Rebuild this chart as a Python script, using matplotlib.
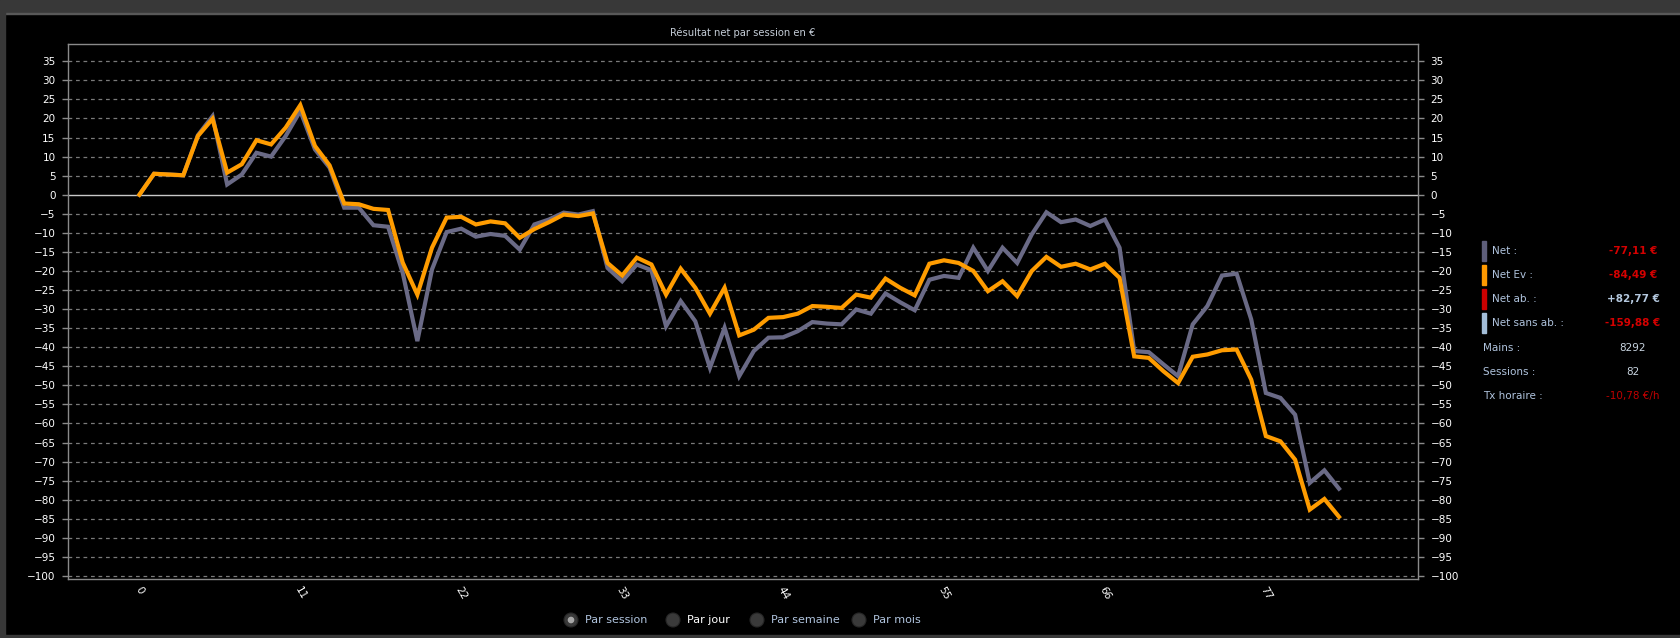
"""Résultat net par session en € : courbes Net et Net Ev (style tableau de bord poker)."""

import matplotlib
matplotlib.use("Agg")
import matplotlib.pyplot as plt
from matplotlib.patches import Circle, Rectangle

# cumulative results per session (index 0 = start)
net = [
    0, 5.5, 5.3, 5.1, 15.6, 20.6, 2.7, 5.3, 11.0, 10.0,
    15.4, 22.0, 11.9, 7.1, -3.4, -3.4, -8.0, -8.4, -20.5, -38.4,
    -19.6, -9.8, -8.9, -11.0, -10.3, -10.8, -14.4, -7.8, -6.5, -4.7,
    -5.2, -4.3, -19.2, -22.7, -18.3, -19.8, -34.5, -27.9, -33.2, -45.4,
    -34.9, -47.6, -41.0, -37.5, -37.4, -35.8, -33.4, -33.8, -34.0, -30.1,
    -31.2, -25.9, -28.2, -30.3, -22.3, -21.3, -21.8, -13.9, -20.0, -13.9,
    -17.9, -10.4, -4.6, -7.2, -6.5, -8.2, -6.5, -13.9, -41.0, -41.3,
    -44.5, -47.6, -34.0, -29.2, -21.2, -20.7, -32.7, -52.0, -53.3, -57.7,
    -75.6, -72.3, -77.11,
]
net_ev = [
    0, 5.5, 5.3, 5.1, 15.4, 19.9, 5.8, 8.0, 14.3, 13.2,
    17.6, 23.5, 12.8, 7.7, -2.3, -2.5, -3.7, -4.0, -17.8, -26.2,
    -13.9, -6.0, -5.8, -7.8, -7.0, -7.5, -11.3, -9.0, -7.2, -5.2,
    -5.6, -4.9, -17.9, -21.2, -16.5, -18.3, -26.2, -19.4, -24.4, -31.2,
    -24.4, -36.9, -35.4, -32.3, -32.1, -31.2, -29.2, -29.4, -29.7, -26.2,
    -27.0, -22.0, -24.4, -26.4, -18.1, -17.2, -17.9, -20.0, -25.3, -22.7,
    -26.6, -20.0, -16.3, -18.9, -18.1, -19.6, -18.1, -21.8, -42.4, -42.8,
    -46.3, -49.4, -42.5, -41.9, -40.8, -40.6, -48.5, -63.3, -64.7, -69.5,
    -82.6, -79.8, -84.49,
]
sessions = list(range(len(net)))
x_ticks = [0, 11, 22, 33, 44, 55, 66, 77]
y_ticks = list(range(-100, 36, 5))

legend_labels = ["Net :", "Net Ev :", "Net ab. :", "Net sans ab. :"]
legend_values = ["-77,11 €", "-84,49 €", "+82,77 €", "-159,88 €"]
legend_colors = ["#5e5e7a", "#ff9900", "#cc0000", "#a3bdd8"]
legend_value_colors = ["#d40000", "#d40000", "#b4c8de", "#d40000"]
stat_labels = ["Mains :", "Sessions :", "Tx horaire :"]
stat_values = ["8292", "82", "-10,78 €/h"]
stat_value_colors = ["#c8d4e0", "#c8d4e0", "#c00000"]
radio_labels = ["Par session", "Par jour", "Par semaine", "Par mois"]

W, H = 1681, 638
TEXT_BLUE = "#b0c4de"

fig = plt.figure(figsize=(W / 100, H / 100), dpi=100, facecolor="black")

# overlay in pixel coordinates for the surrounding UI
ui = fig.add_axes([0, 0, 1, 1])
ui.set_xlim(0, W)
ui.set_ylim(H, 0)
ui.axis("off")
ui.add_patch(Rectangle((0, 0), W, 13, color="#383838"))
ui.add_patch(Rectangle((0, 12.5), W, 1.2, color="#585858"))
ui.add_patch(Rectangle((0, 0), 5, H, color="#383838"))
ui.add_patch(Rectangle((0, 635), W, 3, color="#383838"))

ui.text(743, 32.5, "Résultat net par session en €", color="#c4ccd6",
        fontsize=7.2, ha="center", va="center")

# legend panel
for k, (lab, val, col, vcol) in enumerate(zip(legend_labels, legend_values,
                                              legend_colors, legend_value_colors)):
    yc = 251 + 24 * k
    ui.add_patch(Rectangle((1482, yc - 10), 4.5, 20, color=col))
    ui.text(1492, yc, lab, color=TEXT_BLUE, fontsize=7.5, ha="left", va="center")
    ui.text(1633, yc, val, color=vcol, fontsize=7.5, ha="center", va="center",
            fontweight="bold")
for k, (lab, val, vcol) in enumerate(zip(stat_labels, stat_values, stat_value_colors)):
    yc = 348 + 24 * k
    ui.text(1483, yc, lab, color=TEXT_BLUE, fontsize=7.5, ha="left", va="center")
    ui.text(1633, yc, val, color=vcol, fontsize=7.5, ha="center", va="center")

# radio buttons under the chart
radio_x = [571, 673, 757, 859]
for k, (cx, lab) in enumerate(zip(radio_x, radio_labels)):
    ui.add_patch(Circle((cx, 620), 7, facecolor="#3a3a3a", edgecolor="#262626", lw=0.8))
    if k == 0:
        ui.add_patch(Circle((cx, 620), 2.6, color="#a8a8a8"))
    ui.text(cx + 14, 620, lab, color="white" if k == 1 else TEXT_BLUE,
            fontsize=8, ha="left", va="center")

# main chart
ax = fig.add_axes([68 / W, 1 - 579 / H, 1350 / W, 534.7 / H])
ax.set_facecolor("black")
ax.plot(sessions, net, color="#6a6a86", lw=3, solid_joinstyle="miter", zorder=3)
ax.plot(sessions, net_ev, color="#ff9c00", lw=3, solid_joinstyle="miter", zorder=4)

ax.set_xlim(-4.88, 87.4)
ax.set_ylim(-100.8, 39.46)
ax.set_yticks(y_ticks)
ax.set_xticks(x_ticks)
ax.set_xticklabels([str(t) for t in x_ticks], rotation=-60, ha="center",
                   color="white", fontsize=7.5)
ax.tick_params(axis="x", length=0, pad=4)
ax.tick_params(axis="y", which="both", left=True, right=True, labelleft=True,
               labelright=True, length=4.5, color="#8a8a8a", labelcolor="white",
               labelsize=7.5, pad=4.5, width=1)
for y in y_ticks:
    if y == 0:
        ax.axhline(0, color="#c8c8c8", lw=1, zorder=2)
    else:
        ax.axhline(y, color="#7a7a7a", lw=0.9, ls=(0, (3, 3)), zorder=1)
for side in ax.spines.values():
    side.set_color("#8a8a8a")
    side.set_linewidth(1)

fig.savefig("out.png", dpi=100, facecolor="black")
